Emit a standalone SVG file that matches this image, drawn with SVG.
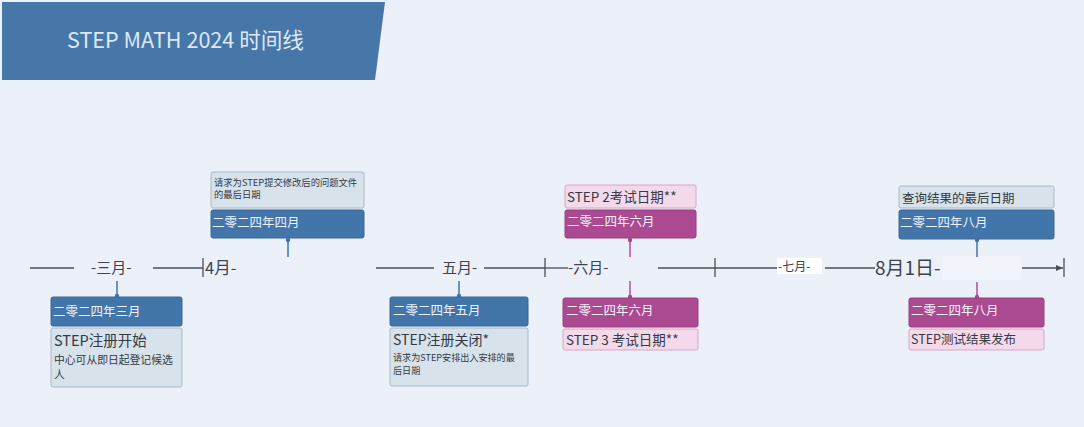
<svg xmlns="http://www.w3.org/2000/svg" width="1084" height="427" viewBox="0 0 1084 427">
<defs>
<style>
text{font-family:"Noto Sans CJK SC","Noto Sans",sans-serif}
.axis{stroke:#4a4f5a;stroke-width:1.3;fill:none}
.tick{stroke:#4a4f5a;stroke-width:1.3}
.mlab{fill:#3d4350;font-size:15px}
.stemB{stroke:#4a7db0;stroke-width:1.6}
.stemM{stroke:#b55a9c;stroke-width:1.6}
.dB{fill:#3f72a6}
.dM{fill:#a9448d}
.darkB{fill:#4275aa;stroke:#3a6898;stroke-width:1}
.darkM{fill:#ab4a91;stroke:#9a3f82;stroke-width:1}
.lightB{fill:#d8e2eb;stroke:#a8b8c8;stroke-width:1}
.lightM{fill:#f3d9ea;stroke:#d7a6c7;stroke-width:1}
.dt{fill:#eef2f8;font-size:12.5px}
.lt{fill:#333a44}
</style>
<marker id="arr" markerWidth="8" markerHeight="8" refX="7" refY="4" orient="auto" markerUnits="userSpaceOnUse">
<path d="M0,1 L7,4 L0,7 z" fill="#4a4f5a"/>
</marker>
</defs>
<rect width="1084" height="427" fill="#ecf1f9"/>
<g id="title">
<polygon points="2,2 385,2 375,80 2,80" fill="#4677a8"/>
<text x="67" y="48" font-size="21.6" fill="#dde8f4">STEP MATH 2024 时间线</text>
</g>
<g id="timeline">
<line class="axis" x1="30" y1="268" x2="74" y2="268"/>
<text class="mlab" x="91" y="273">-三月-</text>
<line class="axis" x1="153" y1="268" x2="203" y2="268"/>
<line class="tick" x1="203" y1="258" x2="203" y2="277"/>
<text class="mlab" x="205" y="274" style="font-size:16.5px">4月-</text>
<line class="axis" x1="376" y1="268" x2="434" y2="268"/>
<text class="mlab" x="442" y="273">五月-</text>
<line class="axis" x1="484" y1="268" x2="545" y2="268"/>
<line class="tick" x1="545" y1="258" x2="545" y2="277"/>
<line class="axis" x1="545" y1="268" x2="568" y2="268"/>
<text class="mlab" x="568" y="273">-六月-</text>
<line class="axis" x1="658" y1="268" x2="777" y2="268"/>
<line class="tick" x1="715" y1="258" x2="715" y2="277"/>
<rect x="777" y="258" width="45" height="16" fill="#ffffff"/>
<text x="778" y="271" font-size="12" fill="#3d4350">-七月-</text>
<line class="axis" x1="825" y1="268" x2="875" y2="268"/>
<text x="875" y="275" font-size="19" fill="#3d4350">8月1日-</text>
<rect x="943" y="256" width="78" height="24" fill="#f1f5fb"/>
<line class="axis" x1="1022" y1="268" x2="1063" y2="268" marker-end="url(#arr)"/>
<line class="tick" x1="1064" y1="258" x2="1064" y2="277"/>
</g>
<g id="connectors">
<line class="stemB" x1="117" y1="281" x2="117" y2="296"/><circle class="dB" cx="117" cy="296" r="2.2"/>
<line class="stemB" x1="288" y1="240" x2="288" y2="257"/><circle class="dB" cx="288" cy="240" r="2.2"/>
<line class="stemB" x1="459" y1="281" x2="459" y2="296"/><circle class="dB" cx="459" cy="296" r="2.2"/>
<line class="stemM" x1="630" y1="240" x2="630" y2="257"/><circle class="dM" cx="630" cy="240" r="2.2"/>
<line class="stemM" x1="630" y1="281" x2="630" y2="297"/><circle class="dM" cx="630" cy="297" r="2.2"/>
<line class="stemB" x1="977" y1="240" x2="977" y2="257"/><circle class="dB" cx="977" cy="240" r="2.2"/>
<line class="stemM" x1="977" y1="282" x2="977" y2="297"/><circle class="dM" cx="977" cy="297" r="2.2"/>
</g>
<g id="node-march">
<rect class="darkB" x="51" y="297" width="131" height="29" rx="2"/>
<text class="dt" x="53" y="316">二零二四年三月</text>
<rect class="lightB" x="51" y="328" width="131" height="59" rx="2"/>
<text class="lt" x="54" y="346" font-size="14.5">STEP注册开始</text>
<text class="lt" x="54" y="364" font-size="10.8">中心可从即日起登记候选</text>
<text class="lt" x="54" y="379" font-size="10.8">人</text>
</g>
<g id="node-april">
<rect class="lightB" x="211" y="172" width="153" height="36" rx="2"/>
<text class="lt" x="214" y="186" font-size="9.3">请求为STEP提交修改后的问题文件</text>
<text class="lt" x="214" y="198" font-size="9.3">的最后日期</text>
<rect class="darkB" x="211" y="210" width="153" height="28" rx="2"/>
<text class="dt" x="212" y="227">二零二四年四月</text>
</g>
<g id="node-may">
<rect class="darkB" x="390" y="297" width="138" height="29" rx="2"/>
<text class="dt" x="393" y="315">二零二四年五月</text>
<rect class="lightB" x="390" y="328" width="138" height="58" rx="2"/>
<text class="lt" x="393" y="345" font-size="14">STEP注册关闭*</text>
<text class="lt" x="393" y="361" font-size="9.1">请求为STEP安排出入安排的最</text>
<text class="lt" x="393" y="374" font-size="9.1">后日期</text>
</g>
<g id="node-june-step2">
<rect class="lightM" x="565" y="185" width="131" height="23" rx="2"/>
<text class="lt" x="567" y="202" font-size="13.5">STEP 2考试日期**</text>
<rect class="darkM" x="565" y="210" width="131" height="28" rx="2"/>
<text class="dt" x="567" y="226">二零二四年六月</text>
</g>
<g id="node-june-step3">
<rect class="darkM" x="563" y="298" width="135" height="29" rx="2"/>
<text class="dt" x="566" y="315">二零二四年六月</text>
<rect class="lightM" x="563" y="329" width="135" height="21" rx="2"/>
<text class="lt" x="566" y="345" font-size="13.5">STEP 3 考试日期**</text>
</g>
<g id="node-august-query">
<rect class="lightB" x="899" y="186" width="155" height="22" rx="2"/>
<text class="lt" x="902" y="203" font-size="12.5">查询结果的最后日期</text>
<rect class="darkB" x="899" y="210" width="155" height="29" rx="2"/>
<text class="dt" x="900" y="227">二零二四年八月</text>
</g>
<g id="node-august-results">
<rect class="darkM" x="909" y="298" width="135" height="29" rx="2"/>
<text class="dt" x="911" y="315">二零二四年八月</text>
<rect class="lightM" x="909" y="329" width="135" height="21" rx="2"/>
<text class="lt" x="911" y="344" font-size="12.5">STEP测试结果发布</text>
</g>
</svg>
